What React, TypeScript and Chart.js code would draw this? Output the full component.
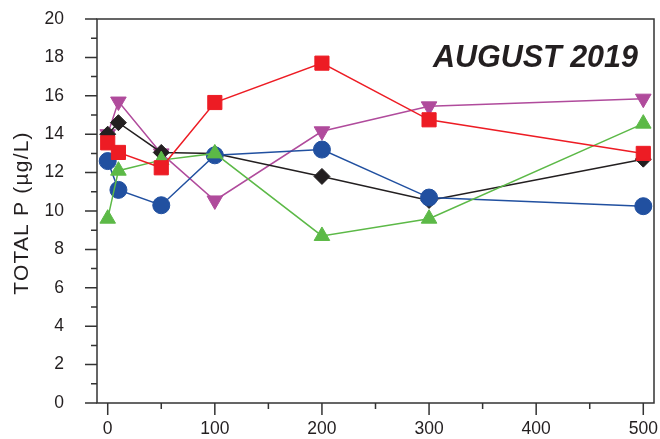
import { useEffect, useRef } from 'react';
import { Chart, registerables } from 'chart.js';
Chart.register(...registerables);

const xValues = [0, 10, 50, 100, 200, 300, 500];
const blueValues = [12.6, 11.1, 10.3, 12.9, 13.2, 10.7, 10.25];
const redValues = [13.55, 13.05, 12.25, 15.65, 17.7, 14.75, 13.0];
const blackValues = [14.0, 14.6, 13.05, 13.0, 11.8, 10.55, 12.7];
const greenValues = [9.6, 12.1, 12.65, 13.0, 8.7, 9.6, 14.55];
const magentaValues = [14.0, 15.7, 13.0, 10.55, 14.15, 15.45, 15.85];

const xMajorTicks = [0, 100, 200, 300, 400, 500];
const xMinorTicks = [50, 150, 250, 350, 450];
const yMajorTicks = [0, 2, 4, 6, 8, 10, 12, 14, 16, 18, 20];
const yMinorTicks = [1, 3, 5, 7, 9, 11, 13, 15, 17, 19];

const yTitle = 'TOTAL P (µg/L)';
const panelTitle = 'AUGUST 2019';

const TEXT = '#231f20';
const AXIS = '#333333';
const FONT = "'Liberation Sans', Arial, sans-serif";

const framePlugin = {
  id: 'frame',
  afterDraw(chart: any) {
    const { ctx, chartArea: a, scales } = chart;
    const xs = scales.x;
    const ys = scales.y;
    ctx.save();
    ctx.strokeStyle = AXIS;
    ctx.lineWidth = 1.5;
    ctx.strokeRect(a.left, a.top, a.right - a.left, a.bottom - a.top);
    ctx.beginPath();
    xMajorTicks.forEach((v) => {
      const p = xs.getPixelForValue(v);
      ctx.moveTo(p, a.bottom);
      ctx.lineTo(p, a.bottom + 12);
    });
    xMinorTicks.forEach((v) => {
      const p = xs.getPixelForValue(v);
      ctx.moveTo(p, a.bottom);
      ctx.lineTo(p, a.bottom + 6);
    });
    yMajorTicks.forEach((v) => {
      const p = ys.getPixelForValue(v);
      ctx.moveTo(a.left, p);
      ctx.lineTo(a.left - 12, p);
    });
    yMinorTicks.forEach((v) => {
      const p = ys.getPixelForValue(v);
      ctx.moveTo(a.left, p);
      ctx.lineTo(a.left - 6, p);
    });
    ctx.stroke();
    ctx.fillStyle = TEXT;
    ctx.font = `italic bold 30.5px ${FONT}`;
    ctx.textAlign = 'right';
    ctx.textBaseline = 'alphabetic';
    ctx.fillText(panelTitle, a.right - 16, a.top + 48);

    ctx.translate(28, (a.top + a.bottom) / 2 + 2);
    ctx.rotate(-Math.PI / 2);
    ctx.font = `21px ${FONT}`;
    (ctx as any).letterSpacing = '1.2px';
    ctx.textAlign = 'center';
    ctx.fillText(yTitle, 0, 0);
    ctx.restore();
  },
};

function series(label: string, vals: number[], color: string, style: string, radius: number, rotation = 0) {
  return {
    label,
    data: xValues.map((x, i) => ({ x, y: vals[i] })),
    borderColor: color,
    backgroundColor: color,
    pointBackgroundColor: color,
    pointBorderColor: color,
    pointBorderWidth: 1,
    borderWidth: 1.5,
    pointStyle: style,
    pointRadius: radius,
    pointRotation: rotation,
    showLine: true,
    tension: 0,
    clip: false,
  };
}

export default function App() {
  const ref = useRef<HTMLCanvasElement>(null);
  useEffect(() => {
    document.body.style.margin = '0';
    const chart = new Chart(ref.current!, {
      type: 'scatter',
      data: {
        datasets: [
          series('red', redValues, '#ed1c24', 'rect', 10),
          series('green', greenValues, '#5cb947', 'triangle', 9),
          series('blue', blueValues, '#2150a0', 'circle', 8.5),
          series('black', blackValues, '#231f20', 'rectRot', 8),
          series('magenta', magentaValues, '#b04b9c', 'triangle', 9, 180),
        ] as any,
      },
      options: {
        responsive: false,
        animation: false,
        layout: { autoPadding: false, padding: { top: 19, right: 6, left: 0, bottom: 0 } },
        plugins: { legend: { display: false }, tooltip: { enabled: false } },
        scales: {
          x: {
            type: 'linear',
            min: -10,
            max: 510,
            afterBuildTicks: (s: any) => {
              s.ticks = xMajorTicks.map((v) => ({ value: v }));
            },
            afterFit: (s: any) => {
              s.height = 36;
              s.paddingLeft = 0;
              s.paddingRight = 0;
            },
            grid: { display: false },
            border: { display: false },
            ticks: { color: TEXT, font: { family: FONT, size: 17.5 }, padding: 8, maxRotation: 0 },
          },
          y: {
            type: 'linear',
            min: 0,
            max: 20,
            afterBuildTicks: (s: any) => {
              s.ticks = yMajorTicks.map((v) => ({ value: v }));
            },
            afterFit: (s: any) => {
              s.width = 97;
              s.paddingTop = 0;
              s.paddingBottom = 0;
            },
            grid: { display: false },
            border: { display: false },
            ticks: { color: TEXT, font: { family: FONT, size: 17.5 }, padding: 25 },
          },
        },
      },
      plugins: [framePlugin],
    } as any);
    return () => chart.destroy();
  }, []);
  return (
    <div style={{ width: 660, height: 439 }}>
      <canvas ref={ref} width={660} height={439} />
    </div>
  );
}
